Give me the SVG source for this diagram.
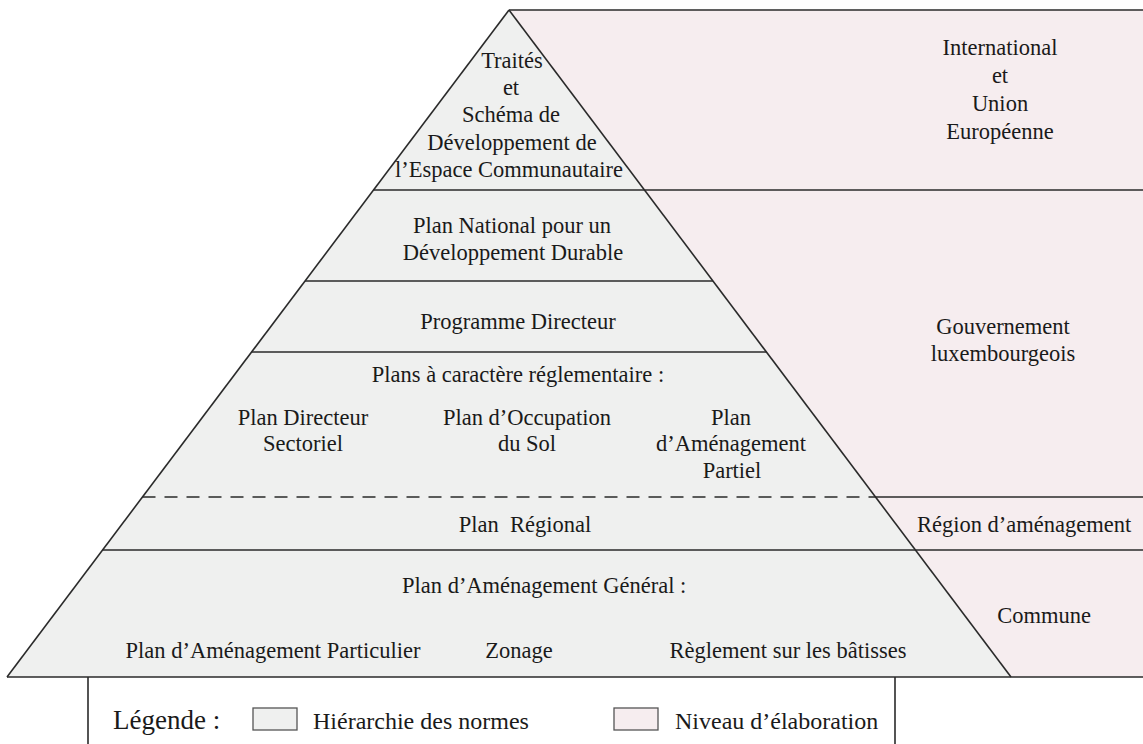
<svg xmlns="http://www.w3.org/2000/svg" width="1143" height="744" viewBox="0 0 1143 744">
<style>
.t{font-family:"Liberation Serif","Times New Roman",serif;font-size:22.5px;fill:#1a1a1a;text-anchor:middle}
.s{text-anchor:start}
.lg{font-family:"Liberation Serif","Times New Roman",serif;font-size:24px;fill:#1a1a1a}
.gray{fill:#EFF0EF;stroke:none}
.pink{fill:#F6EDEF;stroke:none}
.ln{stroke:#2a2a2a;stroke-width:1.6;fill:none}
.dash{stroke-dasharray:13 9}
.box{stroke:#555;stroke-width:1.3}
</style>
<rect width="1143" height="744" fill="#ffffff"/>

<g id="levels">
  <g id="level-international">
    <polygon class="pink" points="509,10 1143,10 1143,190 644.5,190"/>
    <text class="t" x="1000" y="55">International</text>
    <text class="t" x="1000" y="83">et</text>
    <text class="t" x="1000" y="111">Union</text>
    <text class="t" x="1000" y="139">Européenne</text>
  </g>
  <g id="level-gouvernement">
    <polygon class="pink" points="644.5,190 1143,190 1143,497 875.5,497"/>
    <text class="t" x="1003" y="334">Gouvernement</text>
    <text class="t" x="1003" y="361">luxembourgeois</text>
  </g>
  <g id="level-region">
    <polygon class="pink" points="875.5,497 1143,497 1143,550 915.4,550"/>
    <text class="t s" x="917" y="532">Région d’aménagement</text>
  </g>
  <g id="level-commune">
    <polygon class="pink" points="915.4,550 1143,550 1143,677 1011,677"/>
    <text class="t" x="1044" y="623">Commune</text>
  </g>
</g>

<g id="pyramid">
  <g id="norm-traites">
    <polygon class="gray" points="509,10 644.5,190 373.5,190"/>
    <text class="t" x="512" y="68">Traités</text>
    <text class="t" x="511" y="95">et</text>
    <text class="t" x="511" y="122">Schéma de</text>
    <text class="t" x="512" y="150">Développement de</text>
    <text class="t" x="509" y="177">l’Espace Communautaire</text>
  </g>
  <g id="norm-pndd">
    <polygon class="gray" points="373.5,190 644.5,190 712.9,281 305.1,281"/>
    <text class="t" x="512" y="233">Plan National pour un</text>
    <text class="t" x="513" y="260">Développement Durable</text>
  </g>
  <g id="norm-programme">
    <polygon class="gray" points="305.1,281 712.9,281 766.4,352 251.6,352"/>
    <text class="t" x="518" y="329">Programme Directeur</text>
  </g>
  <g id="norm-plans-reglementaires">
    <polygon class="gray" points="251.6,352 766.4,352 875.5,497 142.5,497"/>
    <text class="t" x="518" y="382">Plans à caractère réglementaire :</text>
    <text class="t" x="303" y="425">Plan Directeur</text>
    <text class="t" x="303" y="451">Sectoriel</text>
    <text class="t" x="527" y="425">Plan d’Occupation</text>
    <text class="t" x="527" y="451">du Sol</text>
    <text class="t" x="731" y="425">Plan</text>
    <text class="t" x="731" y="451">d’Aménagement</text>
    <text class="t" x="732" y="478">Partiel</text>
  </g>
  <g id="norm-plan-regional">
    <polygon class="gray" points="142.5,497 875.5,497 915.4,550 102.6,550"/>
    <text class="t" x="525" y="532" xml:space="preserve">Plan  Régional</text>
  </g>
  <g id="norm-pag">
    <polygon class="gray" points="102.6,550 915.4,550 1011,677 7,677"/>
    <text class="t s" x="402" y="593">Plan d’Aménagement Général :</text>
    <text class="t" x="273" y="658">Plan d’Aménagement Particulier</text>
    <text class="t" x="519" y="658">Zonage</text>
    <text class="t" x="788" y="658">Règlement sur les bâtisses</text>
  </g>
</g>

<g id="connectors">
  <path class="ln" d="M509,10 H1143"/>
  <path class="ln" d="M509,10 L7,677"/>
  <path class="ln" d="M509,10 L1011,677"/>
  <path class="ln" d="M373.5,190 H1143"/>
  <path class="ln" d="M305.1,281 H712.9"/>
  <path class="ln" d="M251.6,352 H766.4"/>
  <path class="ln dash" d="M142.5,497 H875.5"/>
  <path class="ln" d="M875.5,497 H1143"/>
  <path class="ln" d="M102.6,550 H1143"/>
  <path class="ln" d="M7,677 H1143"/>
  <path class="ln" d="M88,677 V744"/>
  <path class="ln" d="M895,677 V744"/>
</g>

<g id="legend">
  <text class="lg" x="113" y="729" style="font-size:27px">Légende :</text>
  <rect class="gray box" x="253" y="708" width="44" height="22"/>
  <text class="lg" x="313" y="729">Hiérarchie des normes</text>
  <rect class="pink box" x="614" y="708" width="44" height="22"/>
  <text class="lg" x="675" y="729">Niveau d’élaboration</text>
</g>
</svg>
